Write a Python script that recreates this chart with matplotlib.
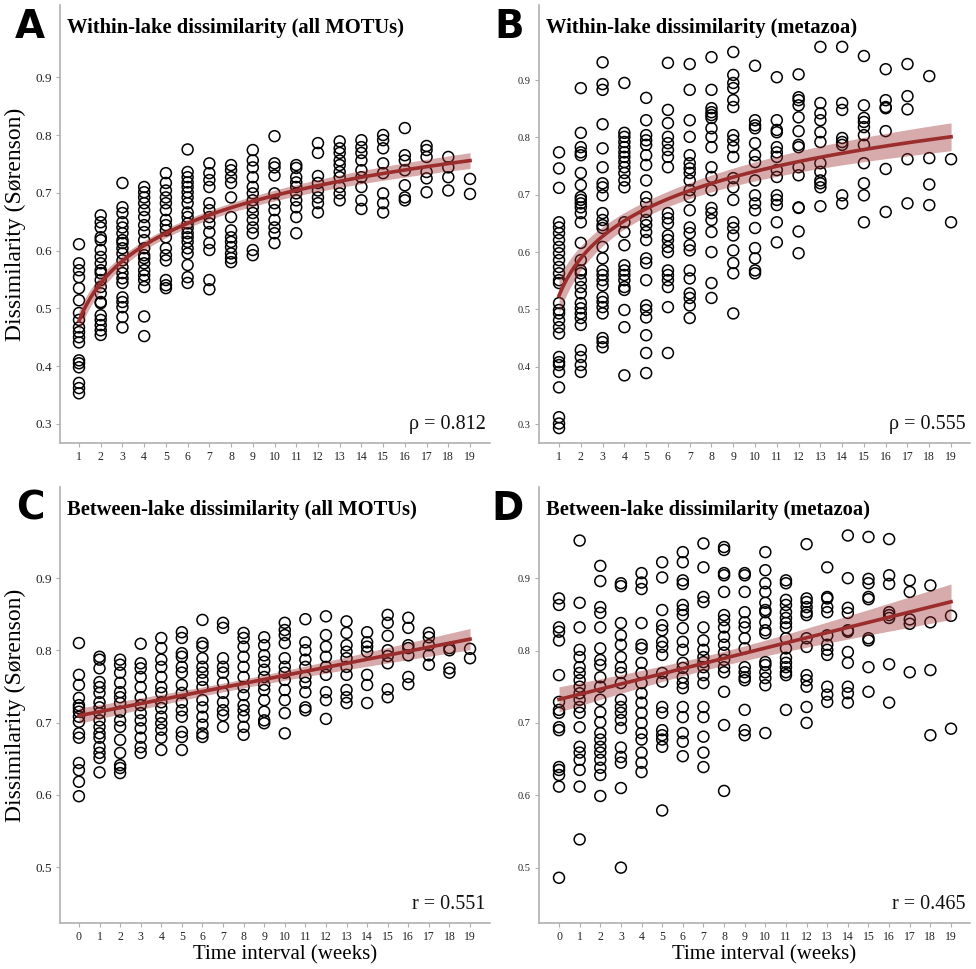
import numpy as np
import matplotlib
matplotlib.use("Agg")
import matplotlib.pyplot as plt

# ---------------------------------------------------------------------------
# Data: one list of dissimilarities per time interval
# ---------------------------------------------------------------------------

weeks_within = list(range(1, 20))
weeks_between = list(range(0, 20))

within_all = [
    [0.611, 0.578, 0.566, 0.554, 0.535, 0.514, 0.492, 0.480, 0.467, 0.459, 0.450, 0.441, 0.410, 0.405, 0.398, 0.371, 0.362, 0.353],
    [0.661, 0.649, 0.640, 0.623, 0.618, 0.601, 0.589, 0.578, 0.566, 0.561, 0.549, 0.537, 0.526, 0.511, 0.509, 0.488, 0.480, 0.471, 0.462, 0.454],
    [0.717, 0.675, 0.665, 0.649, 0.640, 0.630, 0.618, 0.613, 0.604, 0.595, 0.583, 0.571, 0.561, 0.552, 0.544, 0.519, 0.511, 0.502, 0.485, 0.467],
    [0.710, 0.701, 0.692, 0.682, 0.670, 0.658, 0.644, 0.632, 0.618, 0.604, 0.592, 0.587, 0.578, 0.566, 0.557, 0.549, 0.537, 0.486, 0.452],
    [0.734, 0.717, 0.704, 0.692, 0.682, 0.670, 0.653, 0.644, 0.635, 0.623, 0.604, 0.592, 0.583, 0.549, 0.540, 0.535],
    [0.775, 0.736, 0.727, 0.718, 0.710, 0.701, 0.692, 0.682, 0.666, 0.658, 0.647, 0.639, 0.630, 0.623, 0.615, 0.604, 0.595, 0.575, 0.554, 0.544],
    [0.751, 0.734, 0.722, 0.710, 0.682, 0.670, 0.658, 0.647, 0.632, 0.613, 0.601, 0.549, 0.533],
    [0.748, 0.739, 0.727, 0.717, 0.692, 0.658, 0.635, 0.623, 0.615, 0.606, 0.595, 0.587, 0.580],
    [0.774, 0.756, 0.744, 0.727, 0.710, 0.699, 0.687, 0.675, 0.665, 0.653, 0.640, 0.630, 0.601, 0.592],
    [0.798, 0.751, 0.744, 0.730, 0.699, 0.682, 0.670, 0.653, 0.640, 0.630, 0.613],
    [0.748, 0.743, 0.727, 0.718, 0.710, 0.699, 0.687, 0.675, 0.658, 0.630],
    [0.786, 0.769, 0.729, 0.717, 0.704, 0.692, 0.682, 0.666],
    [0.789, 0.777, 0.769, 0.756, 0.748, 0.736, 0.727, 0.710, 0.699, 0.687],
    [0.791, 0.779, 0.769, 0.756, 0.739, 0.727, 0.710, 0.687, 0.672],
    [0.800, 0.791, 0.777, 0.751, 0.734, 0.699, 0.682, 0.666],
    [0.812, 0.765, 0.756, 0.739, 0.713, 0.692, 0.687],
    [0.781, 0.774, 0.762, 0.736, 0.725, 0.701],
    [0.762, 0.744, 0.727, 0.704],
    [0.724, 0.698],
]

within_meta = [
    [0.774, 0.746, 0.712, 0.652, 0.643, 0.633, 0.621, 0.609, 0.598, 0.586, 0.574, 0.563, 0.551, 0.546, 0.511, 0.499, 0.493, 0.481, 0.469, 0.458, 0.417, 0.408, 0.403, 0.391, 0.364, 0.312, 0.301, 0.293],
    [0.886, 0.808, 0.783, 0.774, 0.769, 0.738, 0.717, 0.696, 0.691, 0.685, 0.678, 0.668, 0.652, 0.616, 0.586, 0.568, 0.563, 0.551, 0.539, 0.528, 0.511, 0.502, 0.493, 0.485, 0.473, 0.429, 0.417, 0.403, 0.391],
    [0.931, 0.893, 0.883, 0.823, 0.781, 0.748, 0.720, 0.713, 0.699, 0.668, 0.656, 0.647, 0.642, 0.609, 0.589, 0.568, 0.560, 0.551, 0.542, 0.521, 0.513, 0.504, 0.493, 0.450, 0.443, 0.434],
    [0.895, 0.808, 0.801, 0.792, 0.783, 0.774, 0.766, 0.757, 0.748, 0.738, 0.725, 0.713, 0.652, 0.635, 0.612, 0.577, 0.568, 0.560, 0.551, 0.539, 0.534, 0.499, 0.469, 0.385],
    [0.869, 0.830, 0.804, 0.795, 0.787, 0.769, 0.752, 0.725, 0.696, 0.685, 0.670, 0.656, 0.647, 0.635, 0.621, 0.589, 0.581, 0.551, 0.507, 0.499, 0.486, 0.455, 0.424, 0.389],
    [0.930, 0.848, 0.825, 0.801, 0.790, 0.778, 0.766, 0.748, 0.668, 0.659, 0.650, 0.629, 0.621, 0.609, 0.600, 0.568, 0.560, 0.551, 0.539, 0.504, 0.424],
    [0.928, 0.883, 0.830, 0.801, 0.769, 0.755, 0.746, 0.738, 0.725, 0.708, 0.696, 0.673, 0.643, 0.633, 0.612, 0.603, 0.568, 0.554, 0.528, 0.520, 0.507, 0.485],
    [0.940, 0.883, 0.851, 0.844, 0.839, 0.834, 0.816, 0.801, 0.783, 0.748, 0.731, 0.708, 0.677, 0.668, 0.656, 0.635, 0.600, 0.546, 0.520],
    [0.949, 0.909, 0.895, 0.886, 0.865, 0.853, 0.804, 0.795, 0.783, 0.766, 0.729, 0.713, 0.691, 0.652, 0.642, 0.629, 0.603, 0.581, 0.563, 0.493],
    [0.925, 0.830, 0.821, 0.816, 0.790, 0.769, 0.757, 0.725, 0.699, 0.685, 0.673, 0.642, 0.607, 0.589, 0.568, 0.563],
    [0.905, 0.830, 0.813, 0.809, 0.783, 0.774, 0.766, 0.743, 0.731, 0.699, 0.691, 0.682, 0.652, 0.617],
    [0.910, 0.870, 0.865, 0.856, 0.835, 0.811, 0.787, 0.783, 0.748, 0.734, 0.678, 0.677, 0.636, 0.598],
    [0.958, 0.860, 0.842, 0.830, 0.809, 0.792, 0.755, 0.740, 0.725, 0.720, 0.713, 0.680],
    [0.958, 0.860, 0.848, 0.799, 0.792, 0.787, 0.699, 0.685],
    [0.942, 0.856, 0.834, 0.827, 0.818, 0.804, 0.787, 0.755, 0.720, 0.699, 0.652],
    [0.919, 0.865, 0.853, 0.851, 0.811, 0.745, 0.670],
    [0.928, 0.872, 0.849, 0.762, 0.685],
    [0.907, 0.764, 0.718, 0.682],
    [0.762, 0.652],
]

between_all = [
    [0.810, 0.766, 0.752, 0.734, 0.724, 0.720, 0.715, 0.708, 0.701, 0.685, 0.679, 0.644, 0.634, 0.618, 0.598],
    [0.791, 0.787, 0.775, 0.756, 0.749, 0.741, 0.728, 0.721, 0.713, 0.703, 0.694, 0.685, 0.679, 0.666, 0.658, 0.651, 0.631],
    [0.787, 0.780, 0.769, 0.755, 0.742, 0.735, 0.727, 0.715, 0.703, 0.694, 0.676, 0.658, 0.641, 0.637, 0.630],
    [0.809, 0.782, 0.775, 0.763, 0.749, 0.735, 0.724, 0.713, 0.703, 0.692, 0.679, 0.666, 0.658],
    [0.817, 0.803, 0.787, 0.777, 0.763, 0.749, 0.741, 0.728, 0.720, 0.708, 0.699, 0.690, 0.679, 0.662],
    [0.825, 0.817, 0.796, 0.791, 0.777, 0.769, 0.752, 0.741, 0.728, 0.717, 0.708, 0.687, 0.680, 0.662],
    [0.842, 0.810, 0.805, 0.789, 0.777, 0.769, 0.759, 0.749, 0.731, 0.721, 0.708, 0.697, 0.685, 0.680],
    [0.838, 0.831, 0.789, 0.777, 0.769, 0.755, 0.741, 0.728, 0.717, 0.710, 0.694],
    [0.824, 0.817, 0.805, 0.791, 0.777, 0.763, 0.749, 0.738, 0.724, 0.717, 0.708, 0.694, 0.683],
    [0.818, 0.807, 0.793, 0.784, 0.773, 0.763, 0.752, 0.745, 0.731, 0.715, 0.703, 0.699],
    [0.838, 0.828, 0.821, 0.810, 0.789, 0.777, 0.769, 0.759, 0.745, 0.731, 0.713, 0.685],
    [0.843, 0.811, 0.800, 0.787, 0.777, 0.763, 0.755, 0.742, 0.721, 0.717],
    [0.847, 0.821, 0.805, 0.791, 0.777, 0.766, 0.742, 0.731, 0.705],
    [0.840, 0.824, 0.807, 0.798, 0.789, 0.777, 0.766, 0.745, 0.735, 0.727],
    [0.825, 0.811, 0.805, 0.798, 0.766, 0.752, 0.727],
    [0.849, 0.838, 0.820, 0.800, 0.792, 0.782, 0.746, 0.735],
    [0.845, 0.831, 0.807, 0.803, 0.793, 0.763, 0.753],
    [0.824, 0.818, 0.807, 0.793, 0.780],
    [0.803, 0.800, 0.775, 0.769],
    [0.802, 0.789],
]

between_meta = [
    [0.872, 0.863, 0.832, 0.826, 0.814, 0.766, 0.729, 0.718, 0.714, 0.694, 0.690, 0.639, 0.635, 0.628, 0.612, 0.486],
    [0.952, 0.866, 0.832, 0.801, 0.791, 0.777, 0.769, 0.759, 0.750, 0.741, 0.732, 0.722, 0.714, 0.694, 0.667, 0.659, 0.649, 0.635, 0.612, 0.539],
    [0.917, 0.896, 0.860, 0.852, 0.832, 0.803, 0.787, 0.780, 0.763, 0.750, 0.732, 0.715, 0.701, 0.686, 0.677, 0.667, 0.659, 0.649, 0.638, 0.628, 0.599],
    [0.893, 0.889, 0.838, 0.821, 0.808, 0.791, 0.777, 0.769, 0.755, 0.732, 0.722, 0.714, 0.704, 0.693, 0.666, 0.653, 0.645, 0.610, 0.500],
    [0.907, 0.894, 0.885, 0.838, 0.808, 0.803, 0.783, 0.769, 0.755, 0.741, 0.728, 0.714, 0.700, 0.686, 0.677, 0.659, 0.645, 0.632],
    [0.922, 0.901, 0.856, 0.835, 0.828, 0.812, 0.805, 0.794, 0.769, 0.757, 0.722, 0.714, 0.690, 0.683, 0.677, 0.667, 0.579],
    [0.936, 0.922, 0.897, 0.892, 0.863, 0.856, 0.849, 0.831, 0.812, 0.801, 0.783, 0.776, 0.763, 0.755, 0.748, 0.722, 0.708, 0.686, 0.674, 0.654],
    [0.948, 0.915, 0.874, 0.867, 0.832, 0.814, 0.801, 0.791, 0.784, 0.777, 0.766, 0.755, 0.722, 0.708, 0.681, 0.659, 0.639],
    [0.943, 0.939, 0.907, 0.904, 0.881, 0.849, 0.842, 0.832, 0.819, 0.808, 0.797, 0.787, 0.777, 0.770, 0.743, 0.697, 0.606],
    [0.907, 0.904, 0.881, 0.853, 0.839, 0.832, 0.817, 0.803, 0.777, 0.770, 0.763, 0.759, 0.718, 0.690, 0.683],
    [0.936, 0.911, 0.893, 0.881, 0.866, 0.856, 0.853, 0.839, 0.828, 0.824, 0.784, 0.780, 0.770, 0.762, 0.752, 0.686],
    [0.897, 0.893, 0.870, 0.863, 0.853, 0.845, 0.838, 0.832, 0.817, 0.803, 0.790, 0.783, 0.777, 0.770, 0.766, 0.718],
    [0.947, 0.872, 0.867, 0.860, 0.853, 0.849, 0.817, 0.805, 0.766, 0.759, 0.750, 0.722, 0.700],
    [0.915, 0.874, 0.872, 0.860, 0.853, 0.821, 0.808, 0.801, 0.794, 0.750, 0.739, 0.729],
    [0.959, 0.900, 0.859, 0.852, 0.828, 0.826, 0.798, 0.783, 0.750, 0.741, 0.728],
    [0.957, 0.899, 0.893, 0.874, 0.871, 0.817, 0.814, 0.777, 0.743],
    [0.954, 0.904, 0.892, 0.853, 0.849, 0.845, 0.781, 0.728],
    [0.897, 0.881, 0.843, 0.837, 0.770],
    [0.890, 0.839, 0.773, 0.683],
    [0.848, 0.692],
]

titles = [
    "Within-lake dissimilarity (all MOTUs)",
    "Within-lake dissimilarity (metazoa)",
    "Between-lake dissimilarity (all MOTUs)",
    "Between-lake dissimilarity (metazoa)",
]
letters = ["A", "B", "C", "D"]
stats = ["\u03c1 = 0.812", "\u03c1 = 0.555", "r = 0.551", "r = 0.465"]

#--------------------------------------------------------------------------------------------------------

LINE = "#9b2d2d"
SPINE = "#b0b0b0"
SERIF = ["Liberation Serif", "DejaVu Serif"]
W, H = 976, 969


def flatten(weeks, cols):
    x = np.concatenate([[w] * len(c) for w, c in zip(weeks, cols)]).astype(float)
    y = np.concatenate(cols)
    return x, y


def fitWithBand(x, y, logx, xs):
    # least squares on x or log(x), with 95% band for the mean
    tx = np.log(x) if logx else x
    txs = np.log(xs) if logx else xs
    b, a = np.polyfit(tx, y, 1)
    res = y - (a + b * tx)
    n = len(y)
    s = np.sqrt(np.sum(res ** 2) / (n - 2))
    se = s * np.sqrt(1 / n + (txs - tx.mean()) ** 2 / np.sum((tx - tx.mean()) ** 2))
    fit = a + b * txs
    return fit, fit - 1.96 * se, fit + 1.96 * se


def makeAxes(fig, left, top, right, bottom):
    return fig.add_axes([left / W, 1 - bottom / H, (right - left) / W, (bottom - top) / H])


fig = plt.figure(figsize=(9.76, 9.69), dpi=100)

panels = [
    # (data, weeks, log fit, box px, xlim, ylim, yticks, ytick font)
    (within_all, weeks_within, True, (60, 5, 490, 443), (0.125, 19.92), (0.267, 1.025), [0.3, 0.4, 0.5, 0.6, 0.7, 0.8, 0.9], 9.5),
    (within_meta, weeks_within, True, (539, 5, 970, 443), (0.08, 19.87), (0.267, 1.031), [0.3, 0.4, 0.5, 0.6, 0.7, 0.8, 0.9], 7.5),
    (between_all, weeks_between, False, (60, 487, 490, 923), (-0.92, 19.97), (0.4225, 1.026), [0.5, 0.6, 0.7, 0.8, 0.9], 9.5),
    (between_meta, weeks_between, False, (539, 487, 970, 923), (-0.97, 19.92), (0.4235, 1.026), [0.5, 0.6, 0.7, 0.8, 0.9], 7.5),
]

for i, (cols, weeks, logx, box, xlim, ylim, yticks, yfs) in enumerate(panels):
    ax = makeAxes(fig, *box)
    x, y = flatten(weeks, cols)
    ax.scatter(x, y, s=62, facecolors="none", edgecolors="black", linewidths=1.1, zorder=2)

    xs = np.linspace(min(weeks), max(weeks), 200)
    fit, lo, hi = fitWithBand(x, y, logx, xs)
    ax.fill_between(xs, lo, hi, color=LINE, alpha=0.4, linewidth=0, zorder=3)
    ax.plot(xs, fit, color=LINE, linewidth=2.6, zorder=4)

    ax.set_xlim(*xlim)
    ax.set_ylim(*ylim)
    ax.set_xticks(weeks)
    ax.set_yticks(yticks)
    ax.set_yticklabels([f"{t:.1f}" for t in yticks], family=SERIF, fontsize=yfs)
    ax.set_xticklabels([str(w) for w in weeks], family=SERIF, fontsize=8.5)
    ax.tick_params(colors=SPINE, labelcolor="#222222", length=3, width=0.8, pad=3)
    for side in ["top", "right"]:
        ax.spines[side].set_visible(False)
    for side in ["left", "bottom"]:
        ax.spines[side].set_color(SPINE)
        ax.spines[side].set_linewidth(1.2)

    ax.text(0.99, 0.02, stats[i], transform=ax.transAxes, ha="right", va="bottom",
            family=SERIF, fontsize=14.5, color="#111111")

    # panel letter and title
    fig.text((box[0] - 15) / W, 1 - (box[1] + 33) / H, letters[i], ha="right", va="baseline",
             family="DejaVu Sans", weight="bold", fontsize=28)
    fig.text((box[0] + 7) / W, 1 - (box[1] + 28) / H, titles[i], ha="left", va="baseline",
             family=SERIF, weight="bold", fontsize=14.8)

    if i in (0, 2):
        fig.text(15 / W, 1 - ((box[1] + box[3]) / 2) / H, "Dissimilarity (S\u00f8renson)",
                 rotation=90, ha="center", va="center", family=SERIF, fontsize=17)
    if i in (2, 3):
        fig.text(((box[0] + box[2]) / 2 + 10) / W, 1 - 955 / H, "Time interval (weeks)",
                 ha="center", va="center", family=SERIF, fontsize=15)

fig.savefig("out.png", dpi=100)
